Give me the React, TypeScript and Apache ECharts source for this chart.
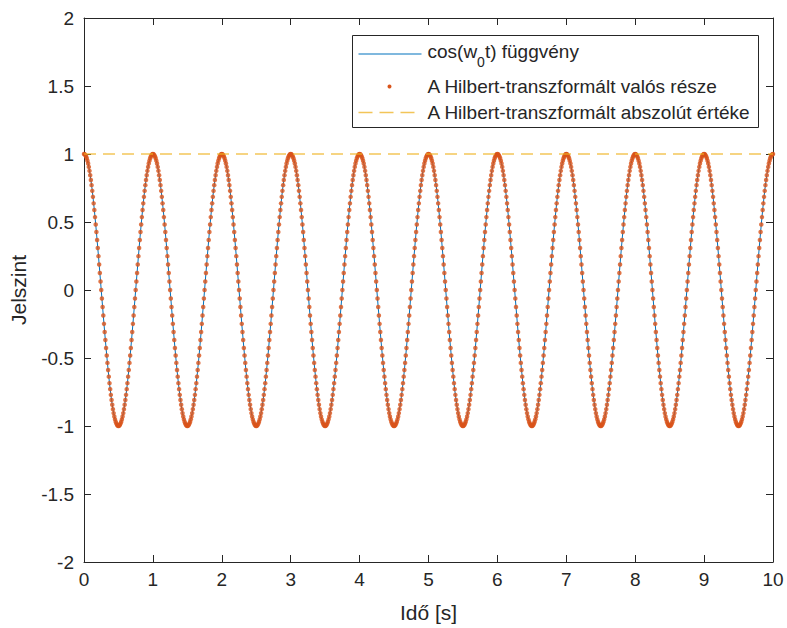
import React, { useEffect, useRef } from 'react';
import * as echarts from 'echarts';

const onePeriod = [
  1, 0.998, 0.992, 0.982, 0.969, 0.951, 0.93, 0.905, 0.876, 0.844, 0.809, 0.771, 0.729, 0.685, 0.637, 0.588,
  0.536, 0.482, 0.426, 0.368, 0.309, 0.249, 0.187, 0.125, 0.063, 0, -0.063, -0.125, -0.187, -0.249, -0.309,
  -0.368, -0.426, -0.482, -0.536, -0.588, -0.637, -0.685, -0.729, -0.771, -0.809, -0.844, -0.876, -0.905,
  -0.93, -0.951, -0.969, -0.982, -0.992, -0.998, -1, -0.998, -0.992, -0.982, -0.969, -0.951, -0.93, -0.905,
  -0.876, -0.844, -0.809, -0.771, -0.729, -0.685, -0.637, -0.588, -0.536, -0.482, -0.426, -0.368, -0.309,
  -0.249, -0.187, -0.125, -0.063, 0, 0.063, 0.125, 0.187, 0.249, 0.309, 0.368, 0.426, 0.482, 0.536, 0.588,
  0.637, 0.685, 0.729, 0.771, 0.809, 0.844, 0.876, 0.905, 0.93, 0.951, 0.969, 0.982, 0.992, 0.998,
];
const periodsShown = 10;
const sampleStep = 0.01;
const finalValue = 1;
const envelopeValue = 1;
const xRange = [0, 10];
const yRange = [-2, 2];

const seriesNames = [
  'cos(w0t) függvény',
  'A Hilbert-transzformált valós része',
  'A Hilbert-transzformált abszolút értéke',
];

const signal: number[] = [];
for (let p = 0; p < periodsShown; p++) signal.push(...onePeriod);
signal.push(finalValue);
const signalPoints = signal.map((v, i) => [Number((i * sampleStep).toFixed(2)), v]);
const envelopePoints = [
  [xRange[0], envelopeValue],
  [xRange[1], envelopeValue],
];

const FONT = 'Liberation Sans, Arial, Helvetica, sans-serif';
const INK = '#262626';
const BLUE = '#0072BD';
const RED = '#D95319';
const YELLOW = '#EDB120';

export default function App() {
  const ref = useRef<HTMLDivElement>(null);
  useEffect(() => {
    document.body.style.margin = '0';
    if (!ref.current) return;
    const chart = echarts.init(ref.current, undefined, { renderer: 'svg' });
    const axisCommon = {
      axisLine: { show: true, onZero: false, lineStyle: { color: INK, width: 1 } },
      axisTick: { show: true, inside: true, length: 7, lineStyle: { color: INK, width: 1 } },
      splitLine: { show: false },
    };
    const lgX = 352;
    const lgY = 35;
    chart.setOption({
      animation: false,
      backgroundColor: '#ffffff',
      grid: { left: 84, right: 14, top: 18, bottom: 66, containLabel: false },
      xAxis: [
        {
          type: 'value',
          min: xRange[0],
          max: xRange[1],
          interval: 1,
          ...axisCommon,
          axisLabel: { color: INK, fontSize: 19, fontFamily: FONT, margin: 8 },
          name: 'Idő [s]',
          nameLocation: 'middle',
          nameGap: 40,
          nameTextStyle: { color: INK, fontSize: 21, fontFamily: FONT },
        },
        {
          type: 'value',
          position: 'top',
          min: xRange[0],
          max: xRange[1],
          interval: 1,
          ...axisCommon,
          axisLabel: { show: false },
        },
      ],
      yAxis: [
        {
          type: 'value',
          min: yRange[0],
          max: yRange[1],
          interval: 0.5,
          ...axisCommon,
          axisLabel: { color: INK, fontSize: 19, fontFamily: FONT, margin: 10 },
          name: 'Jelszint',
          nameLocation: 'middle',
          nameGap: 55,
          nameTextStyle: { color: INK, fontSize: 21, fontFamily: FONT },
        },
        {
          type: 'value',
          position: 'right',
          min: yRange[0],
          max: yRange[1],
          interval: 0.5,
          ...axisCommon,
          axisLabel: { show: false },
        },
      ],
      series: [
        {
          name: seriesNames[0],
          type: 'line',
          data: signalPoints,
          showSymbol: false,
          symbol: 'none',
          lineStyle: { color: BLUE, width: 1 },
          z: 2,
        },
        {
          name: seriesNames[1],
          type: 'scatter',
          data: signalPoints,
          symbol: 'circle',
          symbolSize: 4.5,
          itemStyle: { color: RED },
          large: false,
          z: 3,
        },
        {
          name: seriesNames[2],
          type: 'line',
          data: envelopePoints,
          symbol: 'none',
          lineStyle: { color: YELLOW, width: 1.5, type: [12, 7], opacity: 0.75 },
          z: 4,
        },
      ],
      graphic: [
        {
          type: 'group',
          left: lgX,
          top: lgY,
          z: 100,
          children: [
            {
              type: 'rect',
              shape: { x: 0, y: 0, width: 406, height: 92 },
              style: { fill: '#ffffff', stroke: INK, lineWidth: 1 },
            },
            {
              type: 'line',
              shape: { x1: 6, y1: 18.5, x2: 69, y2: 18.5 },
              style: { stroke: BLUE, lineWidth: 1.2 },
            },
            {
              type: 'text',
              x: 75,
              y: 6,
              style: {
                text: '{a|cos(w}{s|0}{a|t) függvény}',
                fill: INK,
                rich: {
                  a: { fontSize: 19, fontFamily: FONT, fill: INK, lineHeight: 24, verticalAlign: 'top' },
                  s: { fontSize: 14, fontFamily: FONT, fill: INK, lineHeight: 27, verticalAlign: 'bottom' },
                },
              },
            },
            {
              type: 'circle',
              shape: { cx: 37, cy: 51, r: 2 },
              style: { fill: RED },
            },
            {
              type: 'text',
              x: 75,
              y: 51,
              style: { text: seriesNames[1], fontSize: 19, fontFamily: FONT, fill: INK, verticalAlign: 'middle' },
            },
            {
              type: 'line',
              shape: { x1: 6, y1: 77, x2: 69, y2: 77 },
              style: { stroke: YELLOW, lineWidth: 1.5, lineDash: [14, 7], opacity: 0.75 },
            },
            {
              type: 'text',
              x: 75,
              y: 77,
              style: { text: seriesNames[2], fontSize: 19, fontFamily: FONT, fill: INK, verticalAlign: 'middle' },
            },
          ],
        },
      ],
    });
    return () => chart.dispose();
  }, []);
  return <div ref={ref} style={{ width: 787, height: 628 }} />;
}
